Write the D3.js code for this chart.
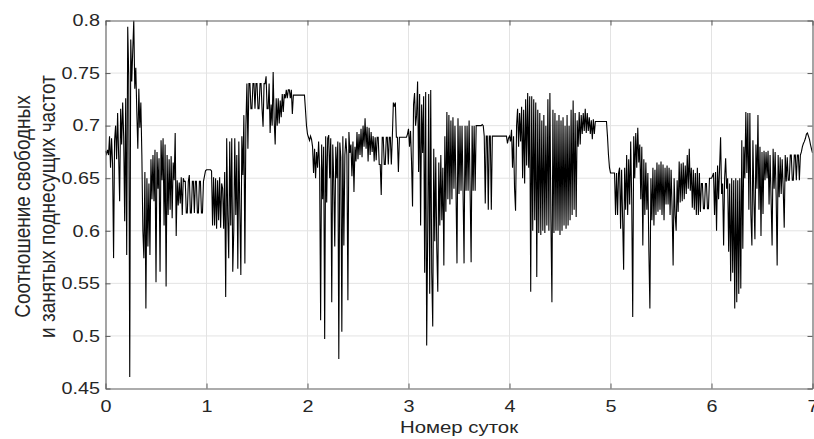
<!DOCTYPE html>
<html>
<head>
<meta charset="utf-8">
<script src="https://cdn.jsdelivr.net/npm/d3@7"></script>
<style>
  body { margin: 0; background: #fff; }
  text { font-family: "Liberation Sans", Arial, sans-serif; fill: #262626; }
</style>
</head>
<body>
<svg id="chart" width="814" height="439"></svg>
<script>
// samples every 0.01 day (one array per day)
const day0 = [.676,.673,.677,.672,.690,.660,.688,.664,.574,.686,
  .700,.668,.712,.672,.628,.716,.682,.722,.690,.609,
  .726,.577,.794,.748,.461,.782,.742,.772,.800,.735,
  .755,.713,.678,.735,.698,.722,.672,.600,.574,.656,
  .526,.650,.585,.645,.577,.668,.630,.672,.628,.677,
  .551,.675,.640,.669,.561,.686,.648,.688,.605,.682,
  .547,.672,.615,.668,.620,.671,.612,.665,.648,.693,
  .595,.648,.624,.646,.626,.651,.615,.650,.647,.647,
  .617,.617,.647,.653,.617,.617,.647,.647,.617,.647,
  .647,.617,.617,.647,.647,.617,.617,.647,.652,.657]
const day1 = [.658,.658,.658,.658,.658,.657,.605,.651,.605,.650,
  .602,.648,.610,.651,.603,.645,.640,.602,.656,.537,
  .688,.615,.574,.685,.605,.688,.561,.600,.688,.615,
  .672,.564,.685,.621,.558,.690,.653,.710,.569,.700,
  .740,.678,.740,.740,.716,.716,.740,.740,.716,.740,
  .740,.716,.716,.740,.740,.716,.699,.740,.740,.747,
  .716,.716,.740,.693,.720,.700,.751,.705,.682,.726,
  .700,.726,.702,.724,.708,.730,.713,.730,.726,.734,
  .726,.734,.734,.726,.734,.711,.729,.729,.729,.729,
  .729,.729,.729,.729,.729,.729,.729,.729,.715,.700]
const day2 = [.692,.689,.686,.690,.687,.680,.655,.678,.650,.675,
  .660,.685,.660,.515,.682,.630,.680,.497,.690,.627,
  .688,.691,.650,.688,.532,.682,.648,.585,.680,.650,
  .685,.478,.684,.670,.504,.690,.586,.672,.688,.672,
  .534,.694,.674,.682,.652,.685,.637,.680,.666,.694,
  .668,.692,.672,.697,.670,.700,.680,.707,.678,.699,
  .666,.698,.672,.694,.675,.690,.666,.689,.667,.689,
  .689,.663,.663,.634,.689,.689,.663,.663,.689,.689,
  .663,.689,.689,.663,.689,.722,.718,.722,.689,.689,
  .656,.689,.689,.689,.689,.689,.689,.689,.689,.692]
const day3 = [.697,.680,.695,.666,.623,.720,.731,.700,.710,.742,
  .656,.730,.605,.720,.674,.728,.560,.732,.491,.600,
  .730,.540,.734,.560,.509,.678,.590,.670,.583,.542,
  .665,.605,.672,.610,.660,.567,.690,.618,.713,.630,
  .710,.625,.705,.630,.708,.640,.700,.640,.569,.707,
  .635,.700,.638,.700,.638,.569,.700,.638,.700,.638,
  .705,.638,.570,.700,.638,.700,.638,.700,.700,.700,
  .700,.700,.700,.701,.700,.690,.626,.690,.690,.620,
  .690,.690,.620,.690,.690,.690,.690,.690,.690,.690,
  .690,.690,.690,.690,.690,.690,.690,.690,.683,.688]
const day4 = [.690,.685,.696,.660,.690,.640,.619,.700,.716,.680,
  .712,.685,.718,.650,.715,.645,.725,.662,.731,.660,
  .728,.542,.728,.600,.725,.610,.722,.556,.715,.598,
  .712,.596,.705,.600,.710,.598,.700,.605,.725,.600,
  .731,.610,.532,.715,.598,.712,.600,.705,.600,.710,
  .596,.705,.600,.708,.605,.700,.602,.710,.605,.700,
  .610,.715,.615,.724,.620,.712,.613,.705,.680,.713,
  .682,.710,.692,.712,.695,.716,.693,.712,.695,.708,
  .692,.705,.687,.706,.692,.704,.704,.704,.704,.704,
  .704,.704,.704,.704,.704,.704,.704,.690,.672,.660]
const day5 = [.655,.655,.655,.655,.655,.615,.655,.615,.655,.660,
  .602,.658,.612,.563,.660,.620,.672,.615,.668,.625,
  .685,.630,.518,.690,.650,.693,.660,.698,.665,.682,
  .630,.680,.586,.668,.615,.665,.620,.655,.580,.526,
  .650,.610,.660,.605,.658,.615,.665,.618,.663,.620,
  .666,.615,.663,.610,.660,.625,.662,.625,.660,.615,
  .658,.620,.567,.650,.615,.600,.648,.618,.666,.627,
  .664,.628,.665,.630,.662,.635,.672,.640,.678,.638,
  .660,.622,.658,.620,.655,.615,.660,.615,.655,.618,
  .645,.645,.621,.621,.645,.645,.621,.621,.650,.650]
const day6 = [.650,.652,.655,.615,.656,.600,.662,.630,.660,.689,
  .635,.645,.586,.650,.669,.640,.650,.580,.645,.552,
  .650,.560,.648,.526,.650,.532,.648,.540,.650,.545,
  .686,.583,.680,.650,.713,.655,.712,.620,.712,.615,
  .586,.686,.630,.592,.682,.640,.710,.620,.680,.595,
  .675,.616,.676,.648,.675,.650,.676,.625,.672,.630,
  .586,.678,.640,.675,.634,.567,.672,.632,.670,.635,
  .668,.640,.603,.672,.647,.670,.648,.648,.672,.672,
  .648,.648,.672,.672,.648,.672,.672,.648,.672,.675,
  .680,.683,.685,.688,.692,.693,.690,.687,.682,.678,
  .674]

const step = 0.01
const xTicks = [0, 1, 2, 3, 4, 5, 6, 7]
const yTicks = [0.45, 0.5, 0.55, 0.6, 0.65, 0.7, 0.75, 0.8]
const xTitle = 'Номер суток'
const yTitle = ['Соотношение свободных', 'и занятых поднесущих частот']

const width = 814, height = 439
const margin = {top: 20.5, right: 1.5, bottom: 50.5, left: 105.5}
const stretch = 1.2   // text in the picture is a bit wide
const axisColor = '#5a5a5a'

let series = [].concat(day0, day1, day2, day3, day4, day5, day6)
  .map((v, i) => ({t: i * step, v: v}))

let svg = d3.select('#chart')

let x = d3.scaleLinear().domain([0, 7]).range([margin.left, width - margin.right])
let y = d3.scaleLinear().domain([0.45, 0.8]).range([height - margin.bottom, margin.top])

// grid
let grid = svg.append('g').attr('class', 'grid')
grid.selectAll('.gx').data(xTicks.slice(1, -1)).enter().append('line')
  .attr('x1', d => x(d)).attr('x2', d => x(d))
  .attr('y1', y.range()[1]).attr('y2', y.range()[0])
  .attr('stroke', '#e3e3e3').attr('stroke-width', 1)
grid.selectAll('.gy').data(yTicks.slice(1, -1)).enter().append('line')
  .attr('y1', d => y(d)).attr('y2', d => y(d))
  .attr('x1', x.range()[0]).attr('x2', x.range()[1])
  .attr('stroke', '#e3e3e3').attr('stroke-width', 1)

svg.append('clipPath').attr('id', 'plotclip').append('rect')
  .attr('x', x.range()[0]).attr('y', y.range()[1])
  .attr('width', x.range()[1] - x.range()[0])
  .attr('height', y.range()[0] - y.range()[1])

let line = d3.line().x(d => x(d.t)).y(d => y(d.v))

svg.append('path')
  .datum(series)
  .attr('clip-path', 'url(#plotclip)')
  .attr('fill', 'none')
  .attr('stroke', '#000')
  .attr('stroke-width', 1.1)
  .attr('d', line)

// axes (MATLAB-like box, ticks pointing in)
let fmt = d => String(+d.toFixed(2))

let xAxis = svg.append('g')
  .attr('transform', 'translate(0,' + y.range()[0] + ')')
  .call(d3.axisBottom(x).tickValues(xTicks).tickFormat(fmt).tickSizeInner(-5).tickSizeOuter(0).tickPadding(11.5))
let yAxis = svg.append('g')
  .attr('transform', 'translate(' + x.range()[0] + ',0)')
  .call(d3.axisLeft(y).tickValues(yTicks).tickFormat(fmt).tickSizeInner(-5).tickSizeOuter(0).tickPadding(4.6))
let topAxis = svg.append('g')
  .attr('transform', 'translate(0,' + y.range()[1] + ')')
  .call(d3.axisTop(x).tickValues(xTicks).tickFormat('').tickSizeInner(-5).tickSizeOuter(0))
let rightAxis = svg.append('g')
  .attr('transform', 'translate(' + x.range()[1] + ',0)')
  .call(d3.axisRight(y).tickValues(yTicks).tickFormat('').tickSizeInner(-5).tickSizeOuter(0))

;[xAxis, yAxis, topAxis, rightAxis].forEach(a => {
  a.select('.domain').attr('stroke', axisColor).attr('stroke-width', 1.1)
  a.selectAll('.tick line').attr('stroke', axisColor).attr('stroke-width', 1)
  a.selectAll('.tick text')
    .attr('fill', '#262626')
    .style('font-size', '16.5px')
    .attr('transform', 'scale(' + stretch + ',1)')
})
xAxis.selectAll('.tick text').attr('x', 0)
yAxis.selectAll('.tick text').attr('x', -4.6)

// titles
svg.append('text')
  .attr('transform', 'translate(' + ((x.range()[0] + x.range()[1]) / 2) + ',433) scale(' + stretch + ',1)')
  .attr('text-anchor', 'middle')
  .style('font-size', '17px')
  .text(xTitle)

let yMid = (y.range()[0] + y.range()[1]) / 2 + 2
yTitle.forEach((t, i) => {
  svg.append('text')
    .attr('transform', 'translate(' + (29.5 + i * 25) + ',' + yMid + ') scale(' + stretch + ',1) rotate(-90)')
    .attr('text-anchor', 'middle')
    .style('font-size', '19px')
    .text(t)
})
</script>
</body>
</html>
